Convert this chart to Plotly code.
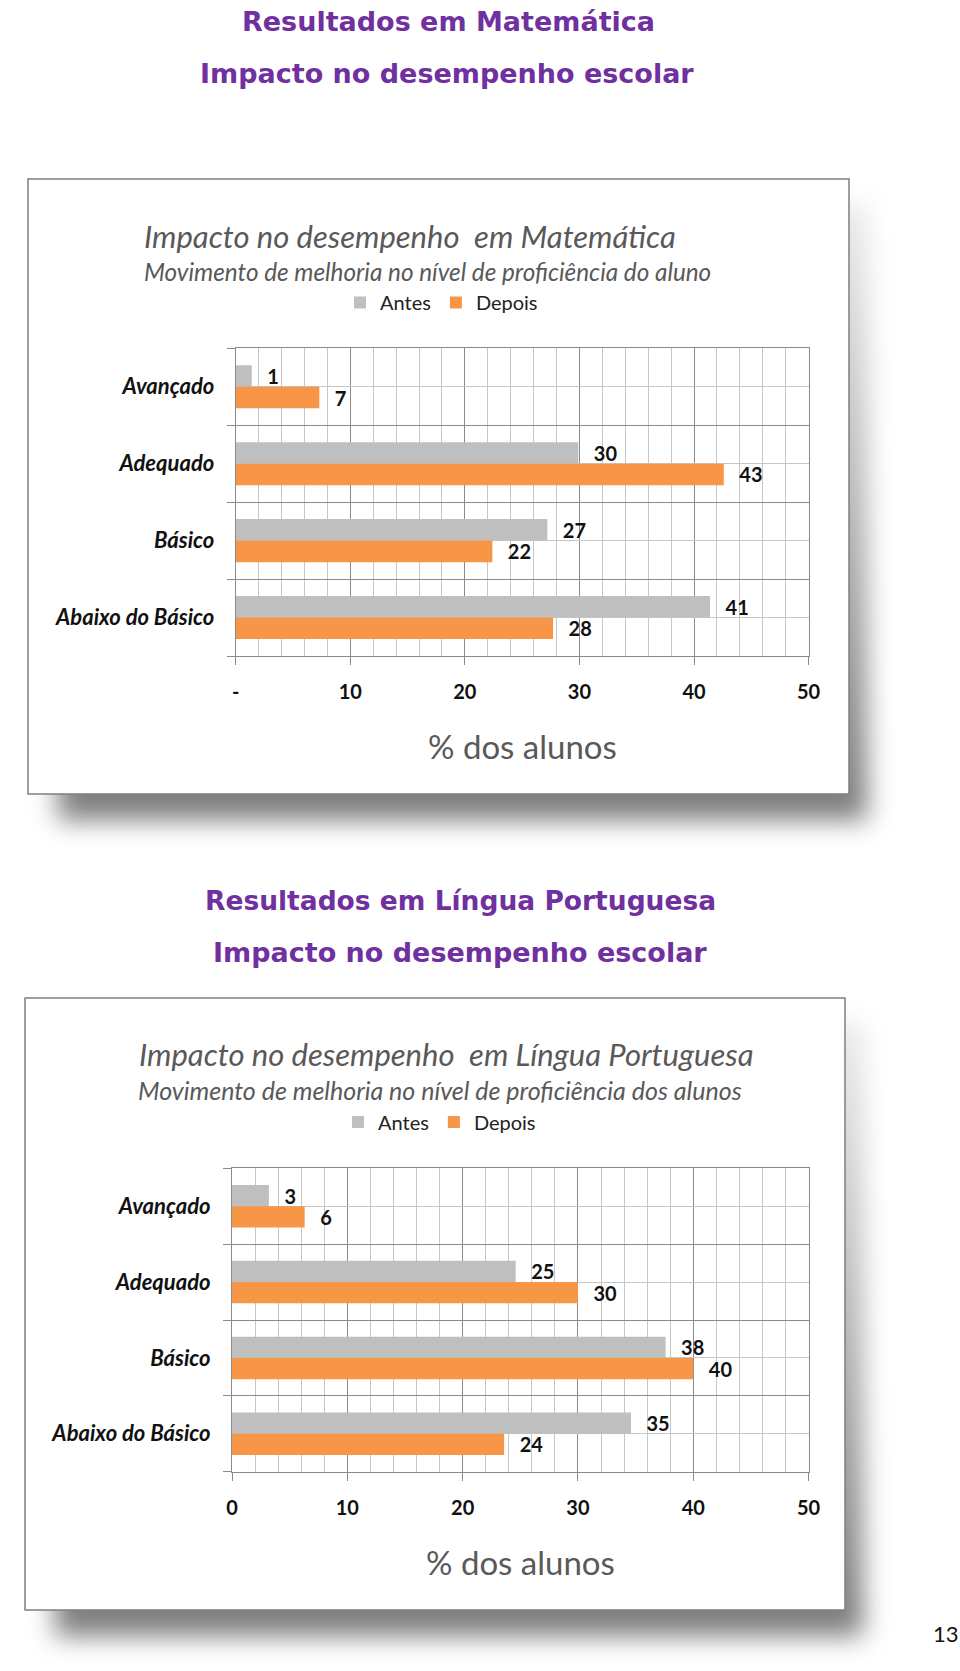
import base64
import plotly.graph_objects as go

W, H = 960, 1671

# ---------------- data ----------------
categories = ["Avançado", "Adequado", "Básico", "Abaixo do Básico"]
series_names = ["Antes", "Depois"]
mat_antes = [1.4, 29.9, 27.2, 41.4]
mat_depois = [7.3, 42.6, 22.4, 27.7]
port_antes = [3.2, 24.6, 37.6, 34.6]
port_depois = [6.3, 30.0, 40.0, 23.6]
x_tick_vals = [0, 10, 20, 30, 40, 50]
mat_tick_text = ["-", "10", "20", "30", "40", "50"]
port_tick_text = ["0", "10", "20", "30", "40", "50"]

page_titles_1 = ["Resultados em Matemática", "Impacto no desempenho escolar"]
page_titles_2 = ["Resultados em Língua Portuguesa", "Impacto no desempenho escolar"]
chart_title_1 = "Impacto no desempenho  em Matemática"
chart_sub_1 = "Movimento de melhoria no nível de proficiência do aluno"
chart_title_2 = "Impacto no desempenho  em Língua Portuguesa"
chart_sub_2 = "Movimento de melhoria no nível de proficiência dos alunos"
axis_title = "% dos alunos"
page_number = "13"

# ---------------- styles ----------------
GRAY_BAR = "#bfbfbf"
ORANGE_BAR = "#f79646"
GRID_MAJOR = "#8a8a8a"
GRID_MINOR = "#c6c6c6"
FONT = "Lato, 'Open Sans', sans-serif"
PURPLE = "#7030a0"
TITLE_GRAY = "#595959"


def px(x):
    return x / W


def py(y):
    return 1 - y / H


ypos = list(range(len(categories)))

fig = go.Figure()

charts = [
    dict(antes=mat_antes, depois=mat_depois, xa="x", ya="y", leg="legend",
         ticktext=mat_tick_text, plot=(235.7, 348.3, 808.6, 656.0),
         frame=(28, 179, 849, 794)),
    dict(antes=port_antes, depois=port_depois, xa="x2", ya="y2", leg="legend2",
         ticktext=port_tick_text, plot=(232.0, 1168.3, 808.6, 1471.7),
         frame=(25, 998, 845, 1610)),
]

label_font = dict(family=FONT, size=20, color="#111111", weight="bold")

for c in charts:
    for name, vals, col in [(series_names[0], c["antes"], GRAY_BAR),
                            (series_names[1], c["depois"], ORANGE_BAR)]:
        fig.add_trace(go.Bar(
            y=ypos, x=vals, orientation="h", name=name,
            marker=dict(color=col, line=dict(width=0)),
            texttemplate="\u2002\u2009%{x:.0f}", textposition="outside",
            textfont=label_font, constraintext="none", cliponaxis=False,
            xaxis=c["xa"], yaxis=c["ya"], legend=c["leg"],
            hoverinfo="skip",
        ))

layout = dict(
    template="none",
    width=W, height=H, autosize=False,
    margin=dict(l=0, r=0, t=0, b=0, pad=0, autoexpand=False),
    paper_bgcolor="white", plot_bgcolor="rgba(0,0,0,0)",
    barmode="group", bargap=0.44, bargroupgap=0.0,
    showlegend=True,
)

for i, c in enumerate(charts):
    x0, y0, x1, y1 = c["plot"]
    sfx = "" if i == 0 else "2"
    layout["xaxis" + sfx] = dict(
        domain=[px(x0), px(x1)], anchor="y" + sfx, range=[0, 50],
        automargin=False,
        tickmode="array", tickvals=x_tick_vals, ticktext=c["ticktext"],
        ticks="outside", ticklen=8, tickcolor=GRID_MAJOR, tickwidth=1,
        showgrid=True, gridcolor=GRID_MAJOR, gridwidth=1,
        minor=dict(tickmode="linear", tick0=0, dtick=2, showgrid=True,
                   gridcolor=GRID_MINOR, gridwidth=1, ticks=""),
        showline=True, linecolor=GRID_MAJOR, linewidth=1, mirror=True,
        zeroline=False, fixedrange=True,
        tickfont=dict(family=FONT, size=20, color="#111111", weight="bold"),
        ticklabelstandoff=10,
    )
    layout["yaxis" + sfx] = dict(
        domain=[py(y1), py(y0)], anchor="x" + sfx, range=[3.5, -0.5],
        automargin=False,
        tickmode="array", tickvals=ypos, ticktext=categories,
        ticks="", showgrid=True, gridcolor=GRID_MINOR, gridwidth=1,
        minor=dict(tickmode="linear", tick0=-0.5, dtick=1, showgrid=True,
                   gridcolor=GRID_MAJOR, gridwidth=1, ticks="outside",
                   ticklen=8, tickcolor=GRID_MAJOR, tickwidth=1),
        showline=True, linecolor=GRID_MAJOR, linewidth=1, mirror=True,
        zeroline=False, fixedrange=True,
        tickfont=dict(family=FONT, size=22, color="#111111", weight="bold",
                      style="italic"),
        ticklabelstandoff=16,
    )

legend_common = dict(orientation="h", xanchor="left", yanchor="middle",
                     font=dict(family=FONT, size=20, color="#222222"),
                     bgcolor="rgba(0,0,0,0)", borderwidth=0, itemclick=False,
                     itemdoubleclick=False, traceorder="normal")
layout["legend"] = dict(legend_common, x=px(340), y=py(302.5))
layout["legend2"] = dict(legend_common, x=px(338), y=py(1122))

fig.update_layout(**layout)


# ---------------- frames with soft (blurred) shadows ----------------
def shadow_image(frame):
    fx0, fy0, fx1, fy1 = frame
    ix0, iy0 = fx0 - 20, fy0 - 20
    ix1, iy1 = fx1 + 80, fy1 + 80
    w, h = ix1 - ix0, iy1 - iy0
    rx0, ry0 = fx0 + 30 - ix0, fy0 + 25 - iy0
    rx1, ry1 = fx1 + 18 - ix0, fy1 + 26 - iy0
    svg = (
        '<svg xmlns="http://www.w3.org/2000/svg" width="%d" height="%d" '
        'viewBox="0 0 %d %d"><defs>'
        '<linearGradient id="g" x1="0" y1="0" x2="0" y2="1">'
        '<stop offset="0" stop-color="#000" stop-opacity="0.08"/>'
        '<stop offset="0.55" stop-color="#000" stop-opacity="0.32"/>'
        '<stop offset="1" stop-color="#000" stop-opacity="0.52"/>'
        '</linearGradient>'
        '<filter id="b" x="-10%%" y="-10%%" width="120%%" height="120%%">'
        '<feGaussianBlur stdDeviation="13"/></filter></defs>'
        '<rect x="%d" y="%d" width="%d" height="%d" fill="url(#g)" '
        'filter="url(#b)"/></svg>'
    ) % (w, h, w, h, rx0, ry0, rx1 - rx0, ry1 - ry0)
    src = "data:image/svg+xml;base64," + base64.b64encode(
        svg.encode("utf-8")).decode("ascii")
    return dict(source=src, xref="paper", yref="paper", x=px(ix0), y=py(iy0),
                sizex=w / W, sizey=h / H, xanchor="left", yanchor="top",
                sizing="stretch", layer="below")


images = []
shapes = []
for c in charts:
    fx0, fy0, fx1, fy1 = c["frame"]
    images.append(shadow_image(c["frame"]))
    shapes.append(dict(
        type="rect", xref="paper", yref="paper", layer="below",
        x0=px(fx0), x1=px(fx1), y0=py(fy1), y1=py(fy0),
        fillcolor="white", line=dict(color="#7f7f7f", width=1.5),
    ))
fig.update_layout(shapes=shapes, images=images)

# ---------------- texts ----------------
ann = []


def add_text(text, x, y, size, color, family=FONT, xanchor="center",
             bold=False, italic=False):
    ann.append(dict(
        text=text, x=px(x), y=py(y), xref="paper", yref="paper",
        xanchor=xanchor, yanchor="middle", showarrow=False,
        font=dict(family=family, size=size, color=color,
                  weight="bold" if bold else "normal",
                  style="italic" if italic else "normal"),
    ))


TITLE_FONT = "'DejaVu Sans', sans-serif"
add_text(page_titles_1[0], 448, 22, 27, PURPLE, TITLE_FONT, bold=True)
add_text(page_titles_1[1], 447, 73, 27, PURPLE, TITLE_FONT, bold=True)
add_text(page_titles_2[0], 460, 901, 26.5, PURPLE, TITLE_FONT, bold=True)
add_text(page_titles_2[1], 460, 952, 27, PURPLE, TITLE_FONT, bold=True)

add_text(chart_title_1, 142, 235.5, 31, TITLE_GRAY, xanchor="left", italic=True)
add_text(chart_sub_1, 142, 271, 24.3, TITLE_GRAY, xanchor="left", italic=True)
add_text(chart_title_2, 137, 1053.5, 31, TITLE_GRAY, xanchor="left", italic=True)
add_text(chart_sub_2, 136, 1090, 25, TITLE_GRAY, xanchor="left", italic=True)

add_text(axis_title, 522, 746, 33, TITLE_GRAY)
add_text(axis_title, 520, 1562, 33, TITLE_GRAY)

add_text(page_number, 946, 1633, 22, "#111111")

fig.update_layout(annotations=ann)

fig.write_html(
    "out.html",
    config={"displayModeBar": False, "responsive": False},
    post_script="document.body.style.margin='0';"
                "document.body.style.padding='0';"
                "document.documentElement.style.overflow='hidden';",
)
